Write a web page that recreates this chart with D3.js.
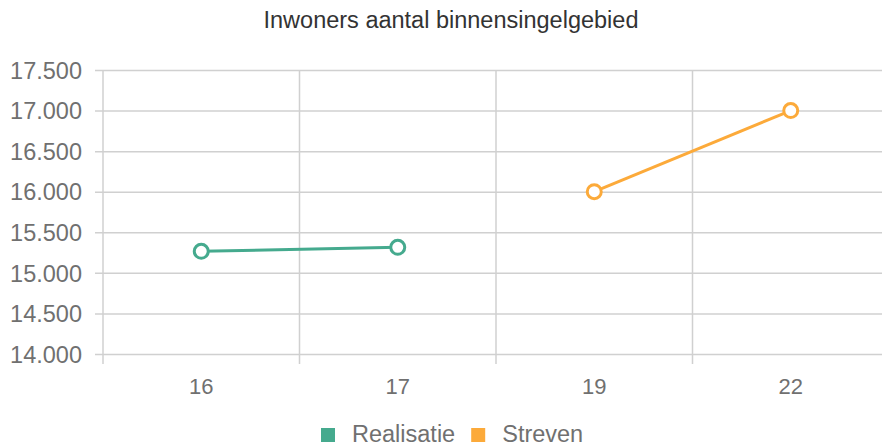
<!DOCTYPE html>
<html>
<head>
<meta charset="utf-8">
<script src="https://cdn.jsdelivr.net/npm/d3@7"></script>
<style>
  body { margin: 0; background: #fff; }
  svg { display: block; font-family: "Liberation Sans", Arial, sans-serif; }
</style>
</head>
<body>
<div id="chart"></div>
<script>
const categories = ["16", "17", "19", "22"];
const realisatie = [["16", 15265], ["17", 15315]];
const streven = [["19", 16000], ["22", 17000]];
const yTicks = [14000, 14500, 15000, 15500, 16000, 16500, 17000, 17500];

const W = 882, H = 446;
const X0 = 103, X1 = 889, Y0 = 354, Y1 = 70;
const FONT = "'Liberation Sans', Arial, sans-serif";

const svg = d3.select("#chart").append("svg").attr("width", W).attr("height", H);

const x = d3.scaleBand().domain(categories).range([X0, X1]);
const y = d3.scaleLinear().domain([14000, 17500]).range([Y0, Y1]);
const fmt = d => d3.format(",.0f")(d).replace(/,/g, ".");

// title
svg.append("text").attr("x", 451).attr("y", 28).attr("text-anchor", "middle")
  .attr("font-size", 23.5).attr("fill", "#333").text("Inwoners aantal binnensingelgebied");

// horizontal grid + y labels
const yAxis = svg.append("g").attr("transform", `translate(${X0},0)`)
  .call(d3.axisLeft(y).tickValues(yTicks).tickSize(-(W - X0)).tickSizeOuter(0).tickPadding(0).tickFormat(fmt));
yAxis.select(".domain").remove();
yAxis.selectAll(".tick line").attr("stroke", "#d0d0d0").attr("stroke-width", 1.5).attr("x1", -8);
yAxis.selectAll(".tick text").attr("x", -21).attr("dy", "0.35em").attr("font-size", 23.5).attr("fill", "#707070")
  .attr("font-family", FONT);

// vertical grid lines at band edges
const edges = categories.map(c => x(c)).concat([X1]);
svg.append("g").selectAll("line").data(edges).join("line")
  .attr("x1", d => d).attr("x2", d => d).attr("y1", Y1).attr("y2", Y0 + 10)
  .attr("stroke", "#d0d0d0").attr("stroke-width", 1.5);

// x labels
svg.append("g").selectAll("text").data(categories).join("text")
  .attr("x", d => x(d) + x.bandwidth() / 2).attr("y", 394)
  .attr("text-anchor", "middle").attr("font-size", 22).attr("fill", "#707070").text(d => d);

const series = [
  {name: "Realisatie", color: "#45aa8e", data: realisatie},
  {name: "Streven", color: "#fcaa3a", data: streven}
];
const cx = d => x(d[0]) + x.bandwidth() / 2;
const line = d3.line().x(cx).y(d => y(d[1]));

series.forEach(s => {
  svg.append("path").datum(s.data).attr("d", line)
    .attr("fill", "none").attr("stroke", s.color).attr("stroke-width", 3);
  svg.append("g").selectAll("circle").data(s.data).join("circle")
    .attr("cx", cx).attr("cy", d => y(d[1])).attr("r", 7)
    .attr("fill", "#fff").attr("stroke", s.color).attr("stroke-width", 3);
});

// legend
const leg = svg.append("g");
let lx = 321;
series.forEach(s => {
  leg.append("rect").attr("x", lx).attr("y", 428).attr("width", 14).attr("height", 14).attr("fill", s.color);
  const t = leg.append("text").attr("x", lx + 31).attr("y", 442).attr("font-size", 23.5).attr("fill", "#707070").text(s.name);
  lx += 31 + t.node().getComputedTextLength() + 16;
});
</script>
</body>
</html>
